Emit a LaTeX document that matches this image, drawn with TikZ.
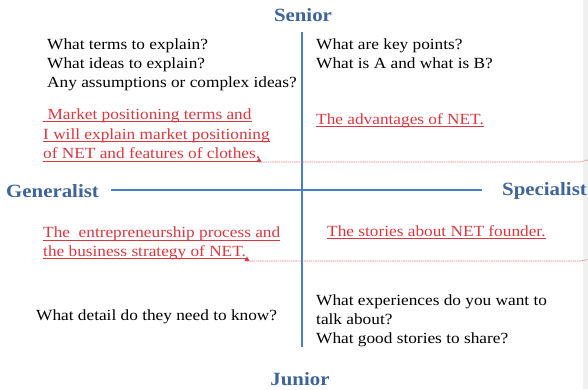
\documentclass[tikz,border=0pt]{standalone}
\usepackage{fontspec}
\setmainfont{Liberation Serif}[FakeStretch=1.115]
\definecolor{headblue}{RGB}{62,100,152}
\definecolor{axisblue}{RGB}{74,126,196}
\definecolor{notered}{RGB}{216,56,64}
\definecolor{notedash}{RGB}{232,120,124}
\definecolor{margingray}{RGB}{240,240,240}
\begin{document}
\begin{tikzpicture}[x=1pt,y=-1pt,
  head/.style={text=headblue, inner sep=0pt, anchor=base,
    font=\fontsize{18.7}{22}\selectfont\bfseries},
  body/.style={text=black, inner sep=0pt, anchor=base west,
    font=\fontsize{15.5}{19}\selectfont},
  note/.style={text=notered, inner sep=0pt, anchor=base west,
    font=\fontsize{15.5}{19}\selectfont,
    append after command={([yshift=-2.6pt]\tikzlastnode.base west)
      edge[draw=notered, line width=0.9pt] ([yshift=-2.6pt]\tikzlastnode.base east)}},
  axis/.style={draw=axisblue, line width=1.3pt},
  cmtline/.style={draw=notedash, line width=0.7pt, dash pattern=on 1.4pt off 0.8pt},
  cmtmark/.style={fill=notered}]
\useasboundingbox (0,0) rectangle (588,389);
\fill[white] (0,0) rectangle (588,389);
\fill[margingray] (583,0) rectangle (588,389);

% axis labels
\node[head] (senior) at (303,21) {Senior};
\node[head] (junior) at (300,385) {Junior};
\node[head, anchor=base west] (gen) at (6,197) {Generalist};
\node[head, anchor=base east] (spec) at (587,195) {Specialist};

% axes
\coordinate (vtop) at (302,32);
\coordinate (vbot) at (302,347);
\draw[axis] (vtop) -- (vbot);
\draw[axis] (111,190) -- (482,190);

% upper left
\node[body] (tl1) at (47,49) {What terms to explain?};
\node[body] (tl2) at (47,68.3) {What ideas to explain?};
\node[body] (tl3) at (47,87.6) {Any assumptions or complex ideas?};
\node[note] (m1) at (43,119.3) {\ Market positioning terms and};
\node[note] (m2) at (43,139) {I will explain market positioning};
\node[note] (m3) at (43,158.5) {of NET and features of clothes.};

% upper right
\node[body] (tr1) at (316,49) {What are key points?};
\node[body] (tr2) at (316,68.5) {What is A and what is B?};
\node[note] (adv) at (316,124) {The advantages of NET.};

% lower left
\node[note] (e1) at (43,237.5) {The\ \ entrepreneurship process and};
\node[note] (e2) at (43,256) {the business strategy of NET.};
\node[body] (bl1) at (36,320) {What detail do they need to know?};

% lower right
\node[note] (st) at (327,236) {The stories about NET founder.};
\node[body] (br1) at (316,305) {What experiences do you want to};
\node[body] (br2) at (316,324.3) {talk about?};
\node[body] (br3) at (316,343.3) {What good stories to share?};

% comment anchors and their leader lines
\coordinate (ca1) at (259,162);
\coordinate (cb1) at (580,162);
\coordinate (cc1) at (588,160);
\fill[cmtmark] (256.5,162) -- (261.5,162) -- (259,157.5) -- cycle;
\draw[cmtline] (ca1) -- (cb1) -- (cc1);

\coordinate (ca2) at (247,261);
\coordinate (cb2) at (580,261);
\coordinate (cc2) at (588,259.5);
\fill[cmtmark] (244.5,261) -- (249.5,261) -- (247,256.5) -- cycle;
\draw[cmtline] (ca2) -- (cb2) -- (cc2);
\end{tikzpicture}
\end{document}
